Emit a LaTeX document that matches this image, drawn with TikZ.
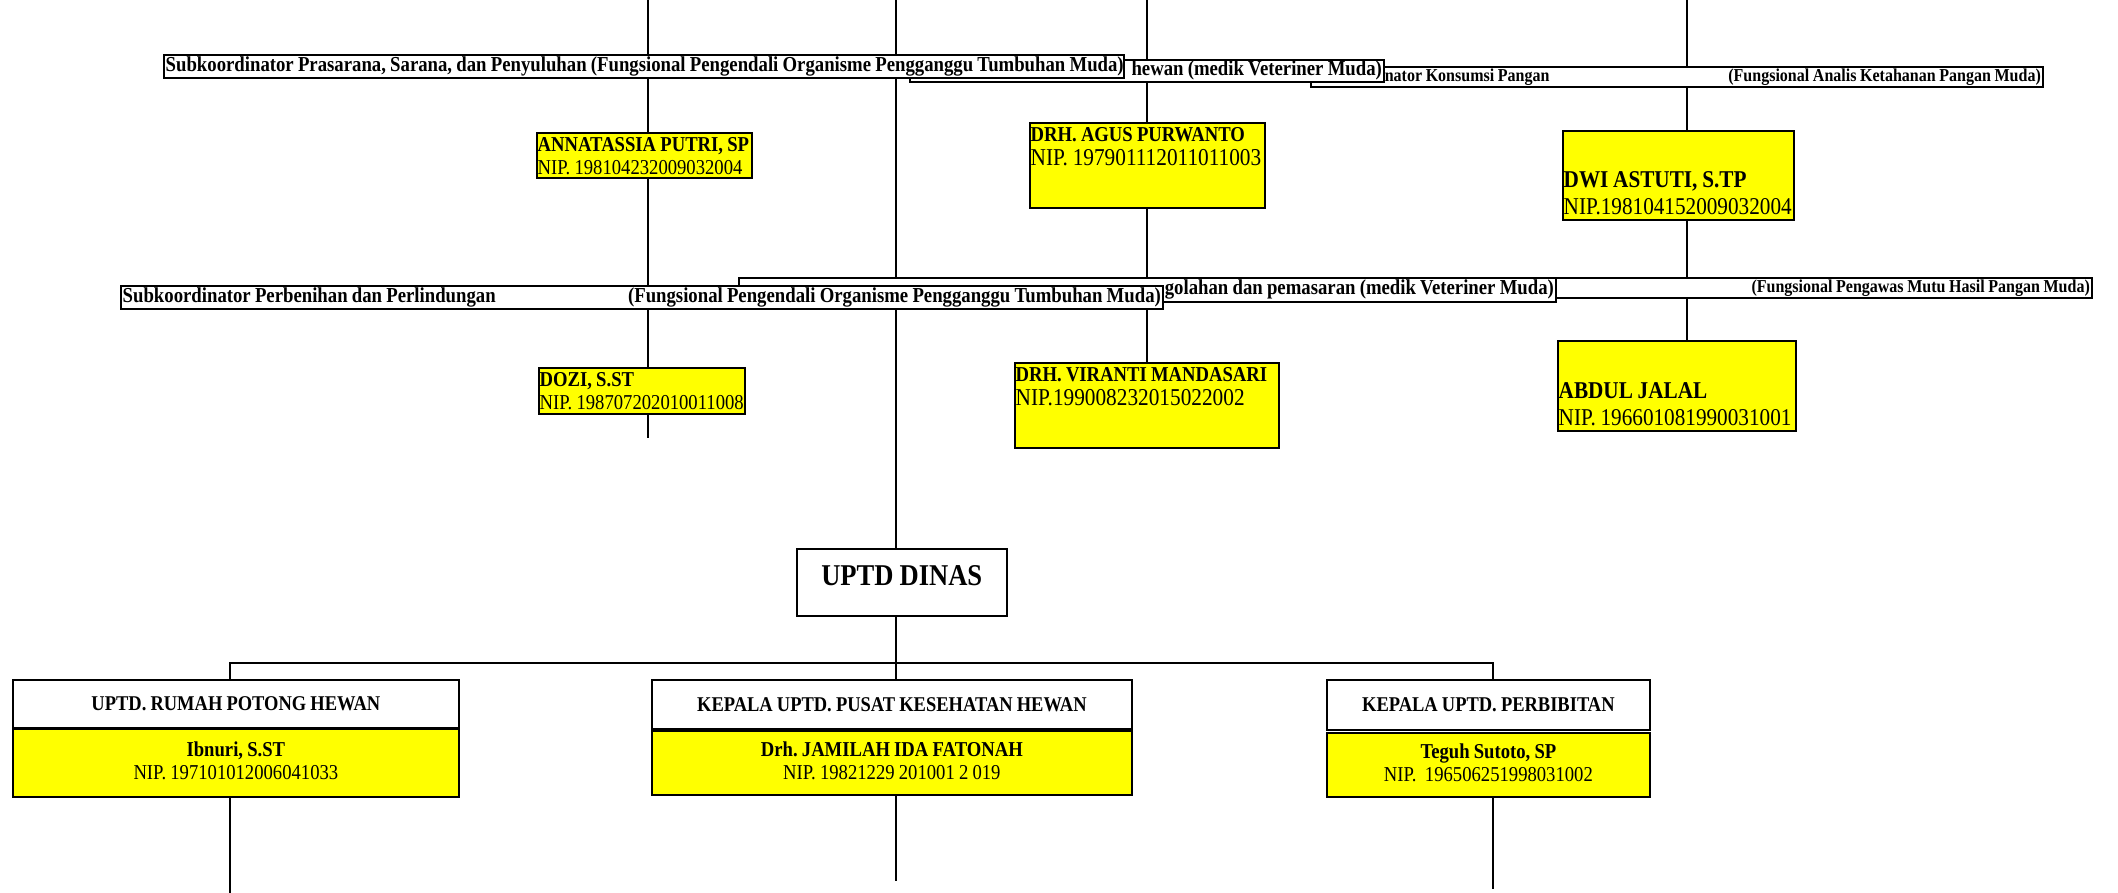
\documentclass[tikz,border=0pt]{standalone}
\usepackage{fontspec}
\setmainfont{Liberation Serif}[FakeStretch=0.88, WordSpace=0.9]
\usetikzlibrary{backgrounds}
\definecolor{kuning}{RGB}{255,255,0}

\tikzset{
  bar/.style={draw, line width=1.6pt, fill=white, anchor=north west, inner sep=0pt},
  barteks/.style={inner xsep=2.5pt, inner ysep=0pt, font=\bfseries\fontsize{21.3}{23}\selectfont},
  kecilteks/.style={barteks, font=\bfseries\fontsize{18.2}{20}\selectfont},
  kotak/.style={draw, line width=1.6pt, fill=kuning, anchor=north west, inner sep=0pt},
  isi/.style={align=left, inner xsep=1.5pt, inner ysep=5pt, font=\fontsize{21.2}{23.5}\selectfont},
  isibesar/.style={isi, inner ysep=6pt, font=\fontsize{24.1}{27}\selectfont},
  unit/.style={draw, line width=1.8pt, fill=white, anchor=north west, inner sep=0pt,
    align=center, font=\bfseries\fontsize{21}{23}\selectfont},
  namateks/.style={align=center, inner sep=0pt, font=\fontsize{21.2}{23}\selectfont},
  garis/.style={line width=1.3pt}
}

\begin{document}
\frenchspacing
\begin{tikzpicture}[x=1pt,y=1pt]
\useasboundingbox (0,0) rectangle (2118,-893);

% baris subkoordinator atas
\node[bar, minimum width=732pt, minimum height=20pt] (konsumsi) at (1310,-66) {};
\node[kecilteks, anchor=west] (konsumsikiri) at (konsumsi.west) {Subkoordinator Konsumsi Pangan};
\node[kecilteks, anchor=east] (konsumsikanan) at (konsumsi.east) {(Fungsional Analis Ketahanan Pangan Muda)};
\node[bar, minimum width=474pt, minimum height=22pt] (kesehatan) at (909,-59) {};
\node[barteks, anchor=east] (kesehatanteks) at (kesehatan.east) {hewan (medik Veteriner Muda)};
\node[bar, minimum width=960pt, minimum height=23pt] (prasarana) at (163,-54) {};
\node[barteks, anchor=west] (prasaranateks) at (prasarana.west)
  {Subkoordinator Prasarana, Sarana, dan Penyuluhan (Fungsional Pengendali Organisme Pengganggu Tumbuhan Muda)};

% pegawai baris pertama
\node[kotak, minimum width=215pt, minimum height=45pt] (annatassia) at (536,-132) {};
\node[isi, anchor=north west] (annatassiateks) at (annatassia.north west)
  {{\bfseries ANNATASSIA PUTRI, SP}\\NIP. 198104232009032004};
\node[kotak, minimum width=235pt, minimum height=85pt] (agus) at (1029,-122) {};
\node[isi, anchor=north west] (agusteks) at (agus.north west)
  {{\bfseries DRH. AGUS PURWANTO}\\[1pt]{\fontsize{24.2}{26}\selectfont NIP. 197901112011011003}};
\node[kotak, minimum width=231pt, minimum height=89pt] (dwi) at (1562,-130) {};
\node[isibesar, anchor=south west] (dwiteks) at (dwi.south west)
  {{\bfseries DWI ASTUTI, S.TP}\\NIP.198104152009032004};

% baris subkoordinator bawah
\node[bar, minimum width=828pt, minimum height=20pt] (mutu) at (1263,-277) {};
\node[kecilteks, anchor=east] (mututeks) at (mutu.east) {(Fungsional Pengawas Mutu Hasil Pangan Muda)};
\node[bar, minimum width=817pt, minimum height=24pt] (pengolahan) at (738,-277) {};
\node[barteks, anchor=east] (pengolahanteks) at (pengolahan.east) {golahan dan pemasaran (medik Veteriner Muda)};
\node[bar, minimum width=1042pt, minimum height=23pt] (perbenihan) at (120,-285) {};
\node[barteks, anchor=west] (perbenihankiri) at (perbenihan.west) {Subkoordinator Perbenihan dan Perlindungan};
\node[barteks, anchor=east] (perbenihankanan) at (perbenihan.east)
  {(Fungsional Pengendali Organisme Pengganggu Tumbuhan Muda)};

% pegawai baris kedua
\node[kotak, minimum width=206pt, minimum height=46pt] (dozi) at (538,-367) {};
\node[isi, anchor=north west] (doziteks) at (dozi.north west)
  {{\bfseries DOZI, S.ST}\\NIP. 198707202010011008};
\node[kotak, minimum width=264pt, minimum height=85pt] (viranti) at (1014,-362) {};
\node[isi, anchor=north west] (virantiteks) at (viranti.north west)
  {{\bfseries DRH. VIRANTI MANDASARI}\\[1pt]{\fontsize{24.2}{26}\selectfont NIP.199008232015022002}};
\node[kotak, minimum width=238pt, minimum height=90pt] (abdul) at (1557,-340) {};
\node[isibesar, anchor=south west] (abdulteks) at (abdul.south west)
  {{\bfseries ABDUL JALAL}\\NIP. 196601081990031001};

% uptd
\node[draw, line width=1.6pt, fill=white, anchor=north west, minimum width=210pt, minimum height=67pt] (dinas) at (796,-548) {};
\node[font=\bfseries\fontsize{30.2}{33}\selectfont] (dinasteks) at ([yshift=7pt]dinas.center) {UPTD DINAS};

\node[unit, minimum width=446pt, minimum height=48pt] (rph) at (12,-679) {UPTD. RUMAH POTONG HEWAN};
\node[kotak, line width=1.8pt, minimum width=446pt, minimum height=68pt] (rphnama) at (12,-728) {};
\node[namateks] (rphnamateks) at ([yshift=2pt]rphnama.center)
  {{\bfseries Ibnuri, S.ST}\\NIP. 197101012006041033};
\node[unit, minimum width=480pt, minimum height=49pt] (pkh) at (651,-679) {KEPALA UPTD. PUSAT KESEHATAN HEWAN};
\node[kotak, line width=1.8pt, minimum width=480pt, minimum height=64pt] (pkhnama) at (651,-730) {};
\node[namateks] (pkhnamateks) at ([yshift=2pt]pkhnama.center)
  {{\bfseries Drh. JAMILAH IDA FATONAH}\\NIP. 19821229 201001 2 019};
\node[unit, minimum width=323pt, minimum height=50pt] (perb) at (1326,-679) {KEPALA UPTD. PERBIBITAN};
\node[kotak, line width=1.8pt, minimum width=323pt, minimum height=64pt] (perbnama) at (1326,-732) {};
\node[namateks] (perbnamateks) at ([yshift=2pt]perbnama.center)
  {{\bfseries Teguh Sutoto, SP}\\NIP.\ \ 196506251998031002};

% garis
\coordinate (atas1) at (648,0);
\coordinate (atas2) at (896,0);
\coordinate (atas3) at (1147,0);
\coordinate (atas4) at (1687,0);
\coordinate (ujung1) at (648,-438);
\coordinate (bus) at (0,-663);
\coordinate (bawah1) at (230,-893);
\coordinate (bawah2) at (896,-881);
\coordinate (bawah3) at (1493,-889);
\begin{pgfonlayer}{background}
  \draw[garis] (atas1) -- (ujung1);
  \draw[garis] (atas2) -- (atas2 |- dinas.north);
  \draw[garis] (atas3) -- (atas3 |- viranti.north);
  \draw[garis] (atas4) -- (atas4 |- abdul.north);
  \draw[garis] (atas2 |- dinas.south) -- (atas2 |- pkh.north);
  \draw[garis] (bawah1 |- rph.north) -- (bawah1 |- bus) -- (bawah3 |- bus) -- (bawah3 |- perb.north);
  \draw[garis] (bawah1 |- rphnama.south) -- (bawah1);
  \draw[garis] (bawah2 |- pkhnama.south) -- (bawah2);
  \draw[garis] (bawah3 |- perbnama.south) -- (bawah3);
\end{pgfonlayer}
\end{tikzpicture}
\end{document}
